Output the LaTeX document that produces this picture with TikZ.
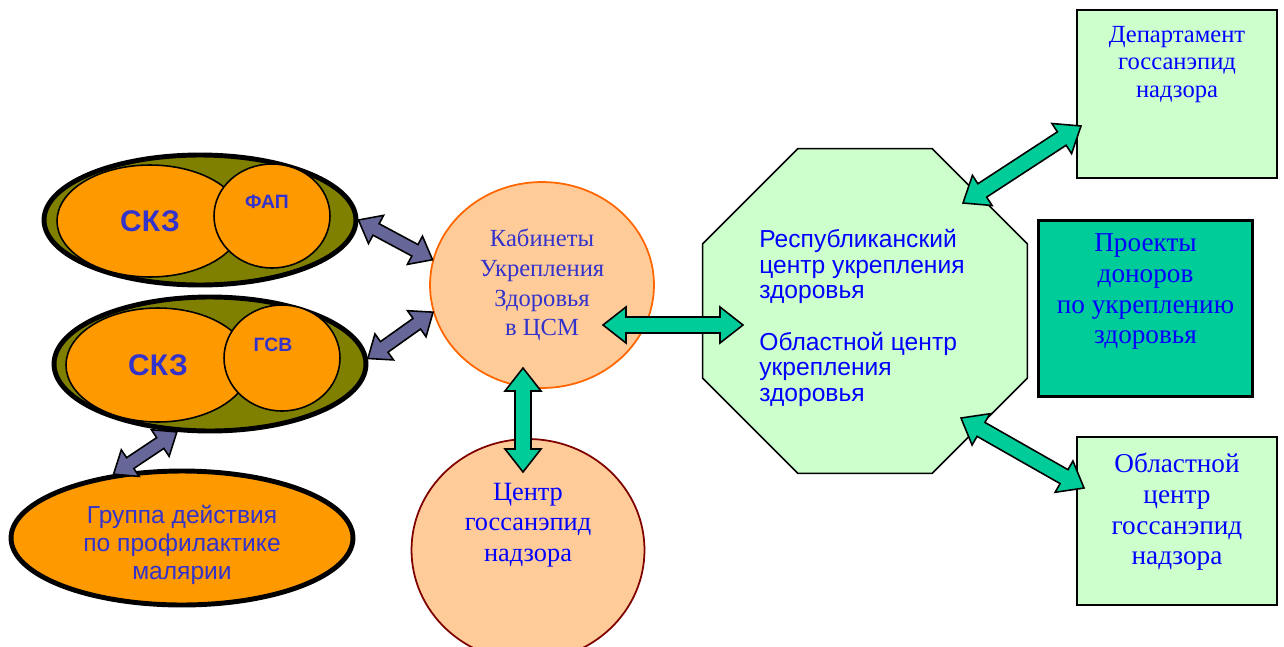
\documentclass[tikz,border=0pt]{standalone}
\usepackage{fontspec}
\setmainfont{Liberation Serif}
\setsansfont{Liberation Sans}
\usetikzlibrary{shapes,calc,positioning}

\definecolor{olivefill}{HTML}{808000}
\definecolor{orangefill}{HTML}{FF9900}
\definecolor{peachfill}{HTML}{FFCC99}
\definecolor{kabline}{HTML}{FF6600}
\definecolor{centline}{HTML}{800000}
\definecolor{palegreen}{HTML}{CCFFCC}
\definecolor{donorfill}{HTML}{00CC99}
\definecolor{arrowgreen}{HTML}{00CC99}
\definecolor{arrowpurple}{HTML}{666699}
\definecolor{labelblue}{HTML}{3333CC}
\definecolor{pureblue}{HTML}{0000FF}

\tikzset{
    arrshaft/.store in=\arrshaft,
    arrhead/.store in=\arrhead,
    arrlen/.store in=\arrlen,
    purplearrow/.style={draw=black, line width=0.9pt, fill=arrowpurple, arrshaft=0.13cm, arrhead=0.32cm, arrlen=0.4cm},
    greenarrow/.style={draw=black, line width=0.9pt, fill=arrowgreen, arrshaft=0.16cm, arrhead=0.36cm, arrlen=0.46cm}
}

% block arrow with a head at both ends
\newcommand{\blockarrow}[3]{%
    \draw[#1] (#2)
        -- ($(#2)!\arrlen!(#3)!\arrhead!90:(#3)$)
        -- ($(#2)!\arrlen!(#3)!\arrshaft!90:(#3)$)
        -- ($(#3)!\arrlen!(#2)!\arrshaft!-90:(#2)$)
        -- ($(#3)!\arrlen!(#2)!\arrhead!-90:(#2)$)
        -- (#3)
        -- ($(#3)!\arrlen!(#2)!\arrhead!90:(#2)$)
        -- ($(#3)!\arrlen!(#2)!\arrshaft!90:(#2)$)
        -- ($(#2)!\arrlen!(#3)!\arrshaft!-90:(#3)$)
        -- ($(#2)!\arrlen!(#3)!\arrhead!-90:(#3)$)
        -- cycle;
}

\begin{document}
\begin{tikzpicture}[x=0.02cm, y=-0.02cm,
    skzring/.style={ellipse, draw=black, line width=2.8pt, fill=olivefill, inner sep=0pt},
    skzcore/.style={ellipse, draw=black, line width=0.9pt, fill=orangefill, inner sep=0pt, text=labelblue, font=\sffamily\bfseries\fontsize{17pt}{20pt}\selectfont},
    subpost/.style={ellipse, draw=black, line width=0.9pt, fill=orangefill, inner sep=0pt},
    posttext/.style={text=labelblue, inner sep=0pt, font=\sffamily\bfseries\fontsize{11pt}{13pt}\selectfont},
    bubble/.style={ellipse, line width=1pt, fill=peachfill, inner sep=0pt, align=center},
    greenbox/.style={rectangle, draw=black, line width=1.3pt, fill=palegreen, inner sep=0pt},
    boxtext/.style={text=pureblue, align=center, inner sep=0pt, font=\fontsize{14pt}{15.6pt}\selectfont}
  ]
    \useasboundingbox (0,0) rectangle (1284,646);

    % left column
    \node[skzring, minimum width=6.24cm, minimum height=2.6cm] (ring1) at (200,220) {};
    \node[skzcore, minimum width=3.72cm, minimum height=2.24cm] (skz1) at (150,221) {СКЗ};
    \node[subpost, minimum width=2.32cm, minimum height=2.08cm] (fap) at (272,216) {};
    \node[posttext] (fap-t) at (267,202) {ФАП};

    \node[skzring, minimum width=6.24cm, minimum height=2.68cm] (ring2) at (210,364) {};
    \node[skzcore, minimum width=3.68cm, minimum height=2.28cm] (skz2) at (158,365) {СКЗ};
    \node[subpost, minimum width=2.32cm, minimum height=2.12cm] (gsv) at (282,358) {};
    \node[posttext] (gsv-t) at (273,345) {ГСВ};

    \node[skzring, fill=orangefill, minimum width=6.84cm, minimum height=2.68cm] (mal) at (182,538) {};
    \node[align=center, text=labelblue, inner sep=0pt, font=\sffamily\fontsize{14pt}{16pt}\selectfont] (mal-t)
          at (182,545) {Группа действия\\по профилактике\\малярии};

    % middle
    \node[bubble, draw=kabline, minimum width=4.48cm, minimum height=4.12cm, text=labelblue,
          font=\fontsize{14pt}{17pt}\selectfont] (kab) at (542,285) {Кабинеты\\Укрепления\\Здоровья\\в ЦСМ};
    \node[bubble, draw=centline, minimum width=4.66cm, minimum height=4.44cm] (cgsen) at (528,550) {};
    \node[boxtext, font=\fontsize{15pt}{17.5pt}\selectfont] (cgsen-t) at (528,525) {Центр\\госсанэпид\\надзора};

    \node[regular polygon, regular polygon sides=8, draw=black, line width=0.9pt, fill=palegreen,
          minimum size=7.03cm, inner sep=0pt] (rcuz) at (865,311) {};
    \node[align=left, text=pureblue, inner sep=0pt, font=\sffamily\fontsize{14pt}{14.6pt}\selectfont] (rcuz-t)
          at (862,318) {Республиканский\\центр укрепления\\здоровья\\[14.6pt]Областной центр\\укрепления\\здоровья};

    % right column
    \node[greenbox, minimum width=4cm, minimum height=3.36cm] (dep) at (1177,94) {};
    \node[boxtext, below=0.34cm of dep.north] (dep-t) {Департамент\\госсанэпид\\надзора};
    \node[greenbox, fill=donorfill, minimum width=4.28cm, minimum height=3.52cm] (donor) at (1145.5,308.5) {};
    \node[boxtext, below=0.28cm of donor.north, font=\fontsize{15.5pt}{17.5pt}\selectfont] (donor-t)
          {Проекты\\доноров\\по укреплению\\здоровья};
    \node[greenbox, minimum width=4cm, minimum height=3.36cm] (obl) at (1177,521) {};
    \node[boxtext, below=0.34cm of obl.north, font=\fontsize{15.5pt}{17.5pt}\selectfont] (obl-t)
          {Областной\\центр\\госсанэпид\\надзора};

    % arrow ends inside the shapes
    \coordinate (kab-r) at (603,325);
    \coordinate (rcuz-l) at (743,325);
    \coordinate (kab-b) at (523,368);
    \coordinate (cgsen-top) at (523,472);
    \coordinate (rcuz-ne) at (963,203);
    \coordinate (dep-w) at (1081,126);
    \coordinate (rcuz-se) at (961,418);
    \coordinate (obl-w) at (1084,488);

    \blockarrow{purplearrow}{ring1.east}{kab.167}
    \blockarrow{purplearrow}{kab.194}{ring2.2}
    \blockarrow{purplearrow}{ring2.244}{mal.137}
    \blockarrow{greenarrow}{kab-r}{rcuz-l}
    \blockarrow{greenarrow}{kab-b}{cgsen-top}
    \blockarrow{greenarrow}{rcuz-ne}{dep-w}
    \blockarrow{greenarrow}{rcuz-se}{obl-w}
\end{tikzpicture}
\end{document}
